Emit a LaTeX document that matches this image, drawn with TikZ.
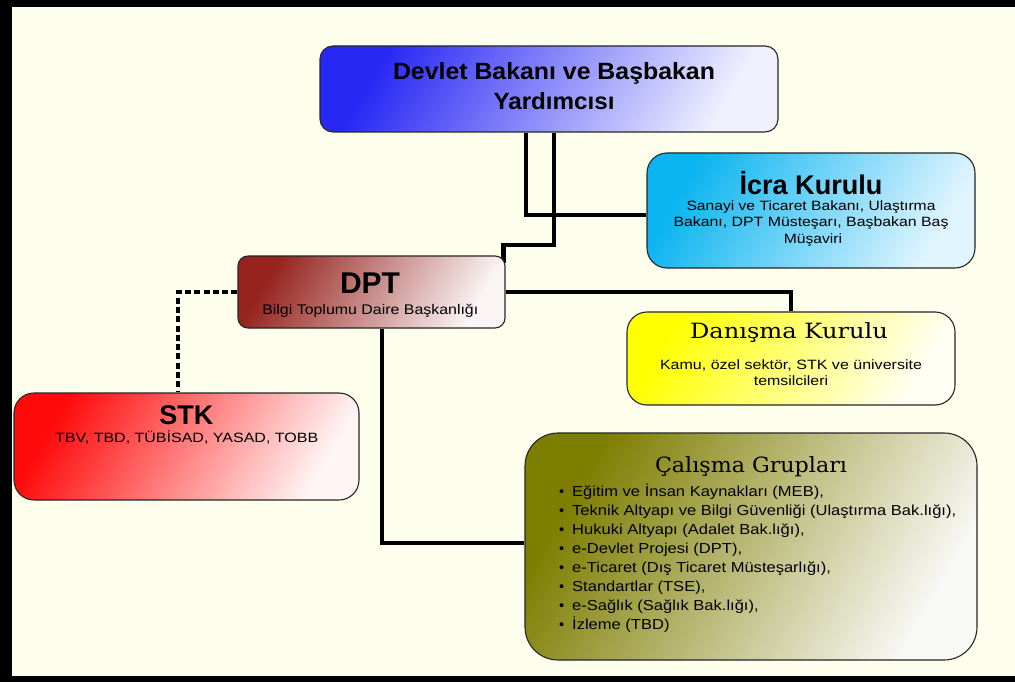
\documentclass[tikz,border=0pt]{standalone}
\usepackage{fontspec}
\setmainfont{Liberation Sans}
\newfontfamily\titleserif{DejaVu Serif}
\usepackage{graphicx}
\usetikzlibrary{calc}
\pgfdeclarelayer{back}
\pgfdeclarelayer{wires}
\pgfsetlayers{back,wires,main}
\definecolor{cream}{RGB}{254,254,236}
\definecolor{topA}{RGB}{40,40,245}
\definecolor{topB}{RGB}{240,240,255}
\definecolor{icA}{RGB}{10,180,240}
\definecolor{icB}{RGB}{225,245,255}
\definecolor{dpA}{RGB}{150,35,30}
\definecolor{dpB}{RGB}{250,244,244}
\definecolor{daA}{RGB}{255,255,0}
\definecolor{daB}{RGB}{255,255,245}
\definecolor{stA}{RGB}{255,10,10}
\definecolor{stB}{RGB}{255,245,245}
\definecolor{caA}{RGB}{125,125,0}
\definecolor{caB}{RGB}{248,248,245}
\newsavebox\fitbox
\newcommand{\fitto}[2]{\sbox\fitbox{#2}\dimen0=\wd\fitbox\pgfmathsetmacro\fitf{#1/\the\dimen0}\scalebox{\fitf}[1]{\usebox\fitbox}}
\tikzset{
  box/.style={draw=black!85, line width=1.1pt, inner sep=0pt},
  grad/.style 2 args={top color=#1, bottom color=#2, shading angle=60},
  wire/.style={line width=4.5pt, line cap=butt, line join=miter},
  dotwire/.style={line width=4.5pt, dash pattern=on 6pt off 3.3pt},
  txt/.style={anchor=base, inner sep=0pt, text=black},
  subfont/.style={font=\fontsize{13.5}{15}\selectfont},
  itemtxt/.style={anchor=base west, inner sep=0pt, text=black, font=\fontsize{14.5}{16}\selectfont},
}
\begin{document}
\begin{tikzpicture}[x=1pt,y=1pt]
\useasboundingbox (0,0) rectangle (1015,-682);
\begin{pgfonlayer}{back}
  \fill[cream] (0,0) rectangle (1015,-682);
  \fill[black] (0,0) rectangle (1015,-7);
  \fill[black] (0,0) rectangle (12,-682);
  \fill[black] (0,-676) rectangle (1015,-682);
\end{pgfonlayer}

% boxes
\node[box, grad={topA}{topB}, rounded corners=13pt, minimum width=458pt, minimum height=86pt] (top) at (549,-89) {};
\node[box, grad={icA}{icB}, rounded corners=20pt, minimum width=328pt, minimum height=115pt] (icra) at (811,-210.5) {};
\node[box, grad={dpA}{dpB}, rounded corners=10pt, minimum width=267pt, minimum height=72pt] (dpt) at (371.5,-292) {};
\node[box, grad={daA}{daB}, rounded corners=20pt, minimum width=328pt, minimum height=93pt] (dan) at (791,-358.5) {};
\node[box, grad={stA}{stB}, rounded corners=20pt, minimum width=345pt, minimum height=107pt] (stk) at (186.5,-446.5) {};
\node[box, grad={caA}{caB}, rounded corners=33pt, minimum width=452pt, minimum height=227pt] (cal) at (751,-546.5) {};

% texts
\node[txt, font=\fontsize{23.5}{26}\selectfont\bfseries] (topL1) at (554,-80) {\fitto{322}{Devlet Bakanı ve Başbakan}};
\node[txt, font=\fontsize{23.5}{26}\selectfont\bfseries] (topL2) at (554,-109.5) {\fitto{121}{Yardımcısı}};

\node[txt, font=\fontsize{27}{29}\selectfont\bfseries] (icraT) at (811,-194) {\fitto{143}{İcra Kurulu}};
\node[txt, subfont] (icraL1) at (811,-210) {\fitto{249}{Sanayi ve Ticaret Bakanı, Ulaştırma}};
\node[txt, subfont] (icraL2) at (811,-226.5) {\fitto{275}{Bakanı, DPT Müsteşarı, Başbakan Baş}};
\node[txt, subfont] (icraL3) at (813,-243) {\scalebox{1.16}[1]{Müşaviri}};

\node[txt, font=\fontsize{30}{32}\selectfont\bfseries] (dptT) at (370,-293) {DPT};
\node[txt, font=\fontsize{14}{16}\selectfont] (dptL1) at (370.3,-314.5) {\fitto{216}{Bilgi Toplumu Daire Başkanlığı}};

\node[txt, font=\fontsize{21}{23}\selectfont\titleserif] (danT) at (789,-338.5) {\fitto{198}{Danışma Kurulu}};
\node[txt, subfont] (danL1) at (791,-369.5) {\fitto{262}{Kamu, özel sektör, STK ve üniversite}};
\node[txt, subfont] (danL2) at (791,-385.5) {\scalebox{1.18}[1]{temsilcileri}};

\node[txt, font=\fontsize{27}{29}\selectfont\bfseries] (stkT) at (186.3,-424) {STK};
\node[txt, subfont] (stkL1) at (186.7,-442) {\fitto{263}{TBV, TBD, TÜBİSAD, YASAD, TOBB}};

\node[txt, font=\fontsize{21}{23}\selectfont\titleserif] (calT) at (751,-472.5) {\fitto{192}{Çalışma Grupları}};
\foreach \t [count=\i from 0] in {
  {Eğitim ve İnsan Kaynakları (MEB),},
  {Teknik Altyapı ve Bilgi Güvenliği (Ulaştırma Bak.lığı),},
  {Hukuki Altyapı (Adalet Bak.lığı),},
  {e-Devlet Projesi (DPT),},
  {e-Ticaret (Dış Ticaret Müsteşarlığı),},
  {Standartlar (TSE),},
  {e-Sağlık (Sağlık Bak.lığı),},
  {İzleme (TBD)}}
{
  \node[itemtxt] (item\i) at (559,{-496-19.1*\i}) {\makebox[13pt][l]{•}\scalebox{1.14}[1]{\t}};
}

% connectors
\begin{pgfonlayer}{wires}
  \draw[wire] ([xshift=-23pt]top.south) |- ([yshift=-4.5pt]icra.west);
  \coordinate (e2) at (554,-245);
  \draw[wire] (top.south -| e2) -- (e2) -| ([xshift=-2pt,yshift=-8pt]dpt.north east);
  \draw[wire] (dpt.east) -| (dan.north);
  \draw[wire] ([xshift=10.5pt]dpt.south) |- ([yshift=3.5pt]cal.west);
  \draw[dotwire] (dpt.west) -| ([xshift=-8.5pt]stk.north);
\end{pgfonlayer}
\end{tikzpicture}
\end{document}
